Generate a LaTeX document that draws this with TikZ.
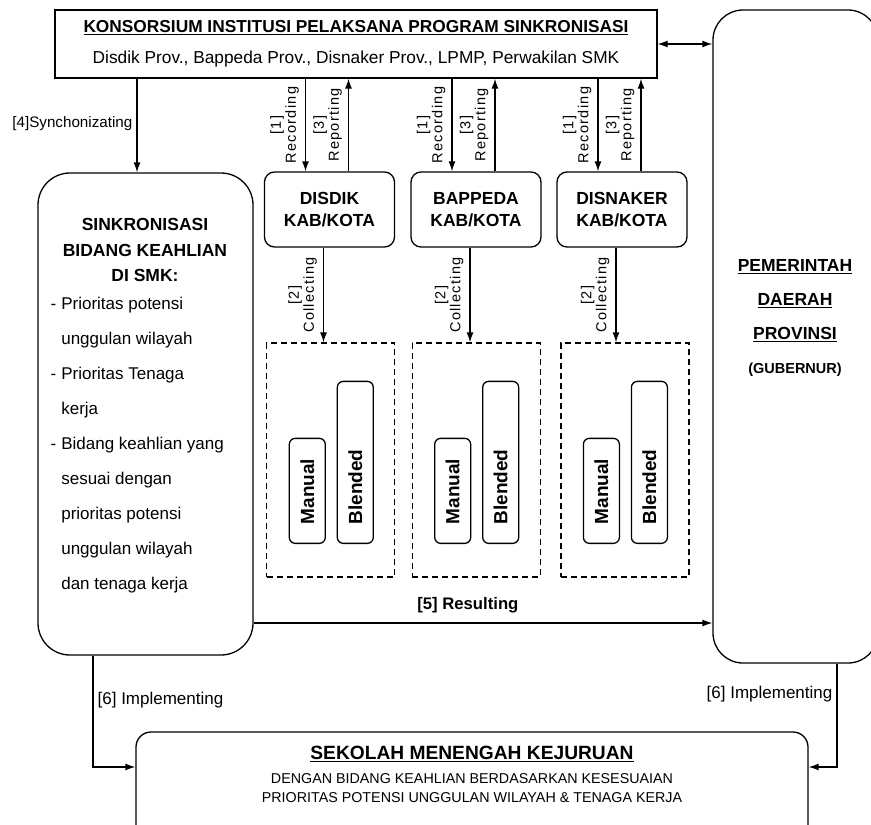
\documentclass[tikz,border=0pt]{standalone}
\usepackage{fontspec}
\setmainfont{Liberation Sans}
\newfontfamily\espaciada{Liberation Sans}[LetterSpace=9]
\usetikzlibrary{arrows.meta}
\usetikzlibrary{calc}
\usetikzlibrary{positioning}

\tikzset{
  caja/.style={draw, line width=1.3pt, rounded corners=10pt, align=center, inner sep=0pt},
  punteada/.style={draw, line width=1.3pt, dash pattern=on 6pt off 4pt},
  modo/.style={caja, rounded corners=6pt, rotate=90, anchor=west, align=left,
    inner xsep=19pt, minimum height=36pt, font=\bfseries\fontsize{19}{20}\selectfont},
  etiq/.style={rotate=90, anchor=south, align=center, inner xsep=0pt, inner ysep=6pt,
    font=\espaciada\fontsize{14.5}{15}\selectfont}
}

\begin{document}
\begin{tikzpicture}[x=1pt, y=-1pt, >={Latex[length=10pt,width=7pt]}, line width=1.3pt]
  \useasboundingbox (0,0) rectangle (871,825);

  % Konsorsium
  \node[draw, minimum width=602pt, minimum height=68pt, align=center, inner sep=0pt,
    font=\fontsize{17.3}{31}\selectfont] (konsorsium) at (356,44)
    {{\bfseries\underline{KONSORSIUM INSTITUSI PELAKSANA PROGRAM SINKRONISASI}}\\
     Disdik Prov., Bappeda Prov., Disnaker Prov., LPMP, Perwakilan SMK};

  % Pemerintah daerah
  \node[caja, rounded corners=30pt, minimum width=165pt, minimum height=653pt] (pemda) at (795.5,336.5) {};
  \node[align=center, font=\bfseries\fontsize{17.5}{34}\selectfont] (pemdatxt) at (795,318)
    {\underline{PEMERINTAH}\\\underline{DAERAH}\\\underline{PROVINSI}\\{\fontsize{14.5}{34}\selectfont (GUBERNUR)}};

  % Sinkronisasi
  \node[caja, rounded corners=32pt, minimum width=215pt, minimum height=482pt] (sinkron) at (145.5,414) {};
  \node[align=center, font=\bfseries\fontsize{17.5}{25.5}\selectfont] (sinkrontit) at (145,250)
    {SINKRONISASI\\BIDANG KEAHLIAN\\DI SMK:};
  \node[anchor=base west, inner sep=0pt, font=\fontsize{17}{35}\selectfont] (sinkronlst) at (50,309)
    {\begin{tabular}[t]{@{}l@{\hspace{5pt}}l@{}}
      - & Prioritas potensi\\
        & unggulan wilayah\\
      - & Prioritas Tenaga\\
        & kerja\\
      - & Bidang keahlian yang\\
        & sesuai dengan\\
        & prioritas potensi\\
        & unggulan wilayah\\
        & dan tenaga kerja
     \end{tabular}};

  % SMK
  \node[caja, rounded corners=15pt, minimum width=672pt, minimum height=110pt] (smk) at (472,787) {};
  \node[align=center, font=\fontsize{14.3}{19}\selectfont] (smktxt) at (472,774)
    {{\bfseries\fontsize{19.2}{19}\selectfont\underline{SEKOLAH MENENGAH KEJURUAN}}\\[5pt]
     DENGAN BIDANG KEAHLIAN BERDASARKAN KESESUAIAN\\
     PRIORITAS POTENSI UNGGULAN WILAYAH \& TENAGA KERJA};

  % Kabupaten/kota
  \foreach \nom/\x/\dx/\txt in {disdik/329.5/330.8/DISDIK, bappeda/476/476.2/BAPPEDA, disnaker/622/624.9/DISNAKER} {
    \node[caja, minimum width=130pt, minimum height=75pt,
      font=\bfseries\fontsize{17.5}{22.5}\selectfont] (\nom) at (\x,209.5) {\txt\\KAB/KOTA};
    \node[punteada, minimum width=128pt, minimum height=234pt] (\nom-p) at (\dx,460) {};
    \node[modo, text width=67pt] (\nom-m) at (\dx-23.5,544) {Manual};
    \node[modo, text width=124pt] (\nom-b) at (\dx+24.5,544) {Blended};

    \coordinate (\nom-r) at ($(\nom.north)+(-24,0)$);
    \coordinate (\nom-s) at ($(\nom.north)+(19,0)$);
    \coordinate (\nom-c) at ($(\nom.south)+(-6,0)$);
    \draw[->] (\nom-r |- konsorsium.south) -- node[etiq] {[1]\\Recording} (\nom-r);
    \draw[->] (\nom-s) -- node[etiq] {[3]\\Reporting} (\nom-s |- konsorsium.south);
    \draw[->] (\nom-c) -- node[etiq] {[2]\\Collecting} (\nom-c |- \nom-p.north);
  }

  % Flechas
  \coordinate (sync) at (137,0);
  \coordinate (res) at (0,623);
  \coordinate (imp) at (93,767);
  \coordinate (imp2) at (837,767);
  \draw[<->] (konsorsium.east) -- (konsorsium.east -| pemda.west);
  \draw[->] (konsorsium.south -| sync) -- node[pos=0.48, anchor=east, inner sep=4pt,
    font=\fontsize{15.2}{17}\selectfont] {[4]Synchonizating} (sync |- sinkron.north);
  \draw[->] (sinkron.east |- res) -- node[pos=0.467, above=9pt, inner sep=0pt,
    font=\bfseries\fontsize{16.7}{18}\selectfont] {[5] Resulting} (pemda.west |- res);
  \draw[->] (sinkron.south -| imp) -- node[pos=0.4, anchor=west, inner sep=4pt,
    font=\fontsize{17}{18}\selectfont] {[6] Implementing} (imp) -- (smk.west |- imp);
  \draw[->] (pemda.south -| imp2) -- node[pos=0.29, anchor=east, inner sep=4pt,
    font=\fontsize{17}{18}\selectfont] {[6] Implementing} (imp2) -- (smk.east |- imp2);
\end{tikzpicture}
\end{document}
